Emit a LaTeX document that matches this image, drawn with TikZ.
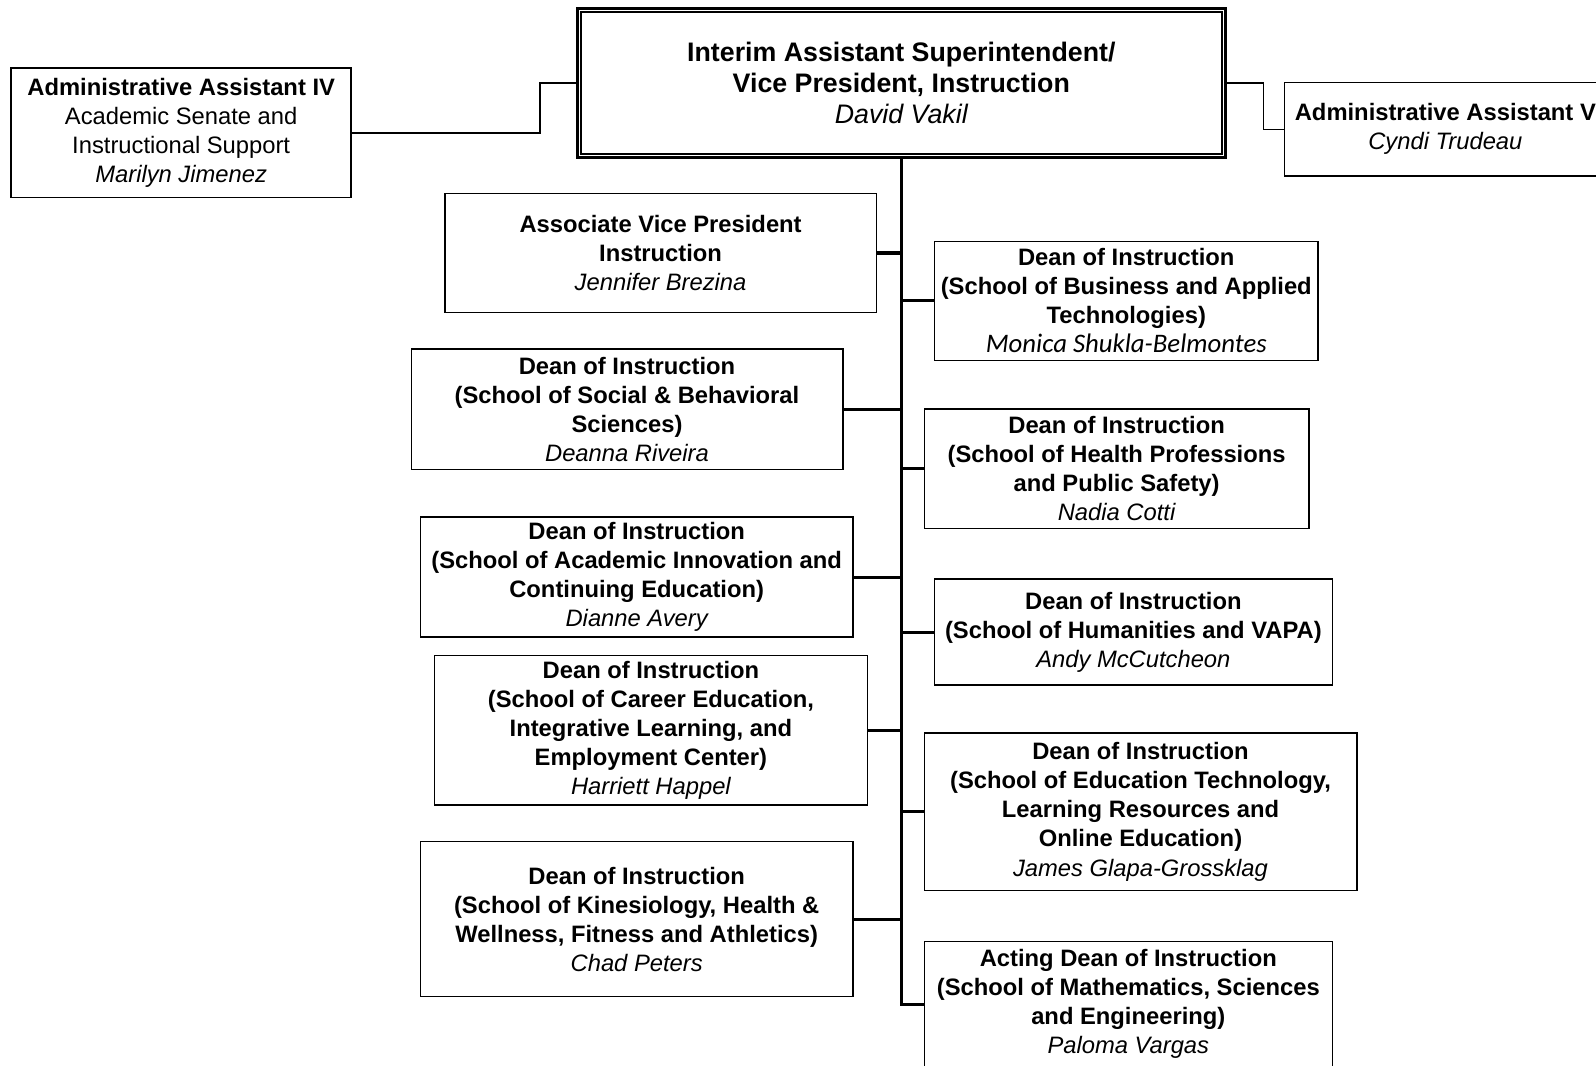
\documentclass[tikz,border=0pt]{standalone}
\usepackage{fontspec}
\setmainfont{Liberation Sans}
\newfontfamily\carlito{Carlito}
\usetikzlibrary{fit}
\tikzset{
  box/.style={draw, line width=1pt, inner sep=0pt},
  txt/.style={align=center, inner sep=0pt,
    font=\fontsize{16.6}{20.3}\selectfont\bfseries},
  trunk/.style={line width=2.2pt},
  link/.style={line width=1pt},
}
\newcommand{\who}[1]{{\mdseries\itshape #1}}

\begin{document}
\begin{tikzpicture}[x=0.025cm, y=-0.025cm]

  % page
  \useasboundingbox (0,0) rectangle (1568,1047);
  \fill[white] (0,0) rectangle (1568,1047);
  \clip (0,0) rectangle (1568,1047);

  % head of instruction
  \node [box, line width=2pt, fit={(567,8) (1204,155)},
    label={[txt, name=vp-t, font=\fontsize{18.7}{21.8}\selectfont\bfseries]center:{Interim Assistant Superintendent/\\Vice President, Instruction\\\who{David Vakil}}}] (vp) {};
  \draw [line width=1pt] ([shift={(5,5)}]vp.north west) rectangle ([shift={(-5,-5)}]vp.south east);

  % assistants
  \node [box, fit={(11,67) (345,194)},
    label={[txt, name=aa4-t]center:{Administrative Assistant IV\\{\mdseries Academic Senate and}\\{\mdseries Instructional Support}\\\who{Marilyn Jimenez}}}] (aa4) {};
  \node [box, fit={(1262,81) (1578,173)},
    label={[txt, name=aa5-t]center:{Administrative Assistant V\\\who{Cyndi Trudeau}}}] (aa5) {};

  % deans, left column
  \node [box, fit={(437,190) (861,307)},
    label={[txt, name=avp-t]center:{Associate Vice President\\Instruction\\\who{Jennifer Brezina}}}] (avp) {};
  \node [box, fit={(404,343) (828,461)},
    label={[txt, name=sbs-t]center:{Dean of Instruction\\(School of Social \& Behavioral\\Sciences)\\\who{Deanna Riveira}}}] (sbs) {};
  \node [box, fit={(413,508) (838,626)},
    label={[txt, name=aice-t]center:{Dean of Instruction\\(School of Academic Innovation and\\Continuing Education)\\\who{Dianne Avery}}}] (aice) {};
  \node [box, fit={(427,644) (852,791)},
    label={[txt, name=cte-t]center:{Dean of Instruction\\(School of Career Education,\\Integrative Learning, and\\Employment Center)\\\who{Harriett Happel}}}] (cte) {};
  \node [box, fit={(413,827) (838,979)},
    label={[txt, name=kin-t]center:{Dean of Instruction\\(School of Kinesiology, Health \&\\Wellness, Fitness and Athletics)\\\who{Chad Peters}}}] (kin) {};

  % deans, right column
  \node [box, fit={(918,237) (1295,354)},
    label={[txt, name=bat-t]center:{Dean of Instruction\\(School of Business and Applied\\Technologies)\\{\carlito\fontsize{18.7}{20.3}\selectfont\mdseries\itshape Monica Shukla-Belmontes}}}] (bat) {};
  \node [box, fit={(908,402) (1286,519)},
    label={[txt, name=hps-t]center:{Dean of Instruction\\(School of Health Professions\\and Public Safety)\\\who{Nadia Cotti}}}] (hps) {};
  \node [box, fit={(918,569) (1309,673)},
    label={[txt, name=hum-t]center:{Dean of Instruction\\(School of Humanities and VAPA)\\\who{Andy McCutcheon}}}] (hum) {};
  \node [box, fit={(908,720) (1333,875)},
    label={[txt, name=etl-t]center:{Dean of Instruction\\(School of Education Technology,\\Learning Resources and\\Online Education)\\\who{James Glapa-Grossklag}}}] (etl) {};
  \node [box, fit={(908,925) (1309,1048)},
    label={[txt, name=mse-t]center:{Acting Dean of Instruction\\(School of Mathematics, Sciences\\and Engineering)\\\who{Paloma Vargas}}}] (mse) {};

  % connectors
  \draw [link] (vp.west) -- ++(-35,0) |- (aa4.east);
  \draw [link] (vp.east) -- ++(36,0) |- (aa5.west);
  \draw [trunk] (vp.south) |- (mse.west);
  \foreach \n in {avp,sbs,aice,cte,kin}
    \draw [trunk] (\n.east) -- (\n.east -| vp.south);
  \foreach \n in {bat,hps,hum,etl}
    \draw [trunk] (\n.west) -- (\n.west -| vp.south);

\end{tikzpicture}
\end{document}
